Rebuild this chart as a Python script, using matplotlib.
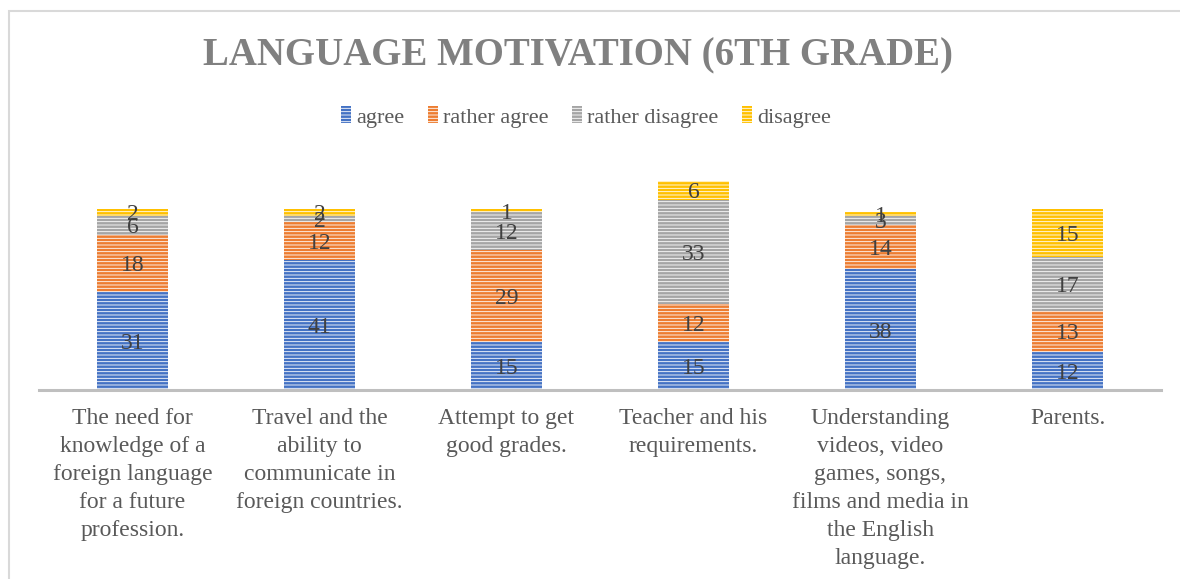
import numpy as np
import matplotlib.pyplot as plt
from matplotlib.patches import Rectangle

plt.rcParams['font.family'] = ['Liberation Serif', 'DejaVu Serif']
plt.rcParams['hatch.color'] = 'white'
plt.rcParams['hatch.linewidth'] = 0.6

categories = [
    "The need for\nknowledge of a\nforeign language\nfor a future\nprofession.",
    "Travel and the\nability to\ncommunicate in\nforeign countries.",
    "Attempt to get\ngood grades.",
    "Teacher and his\nrequirements.",
    "Understanding\nvideos, video\ngames, songs,\nfilms and media in\nthe English\nlanguage.",
    "Parents.",
]
series = ["agree", "rather agree", "rather disagree", "disagree"]
agree = [31, 41, 15, 15, 38, 12]
rather_agree = [18, 12, 29, 12, 14, 13]
rather_disagree = [6, 2, 12, 33, 3, 17]
disagree = [2, 2, 1, 6, 1, 15]
colors = ['#4472C4', '#ED7D31', '#A5A5A5', '#FFC000']

fig = plt.figure(figsize=(11.8, 5.79), dpi=100)
fig.patches.append(Rectangle((9 / 1180, -0.1), 1.2, 1 - 11 / 579 + 0.1,
                             transform=fig.transFigure, fill=False,
                             edgecolor='#D9D9D9', linewidth=1.5))
ax = fig.add_axes([39 / 1180, 189 / 579, 1122 / 1180, 222 / 579])

x = np.arange(len(categories))
bottom = np.zeros(len(categories))
for name, vals, col in zip(series, [agree, rather_agree, rather_disagree, disagree], colors):
    bars = ax.bar(x, vals, 0.38, bottom=bottom, color=col, edgecolor='white',
                  linewidth=0, hatch='-----', label=name)
    for b, v, bt in zip(bars, vals, bottom):
        ax.text(b.get_x() + b.get_width() / 2, bt + v / 2, str(v),
                ha='center', va='center_baseline', fontsize=17, color='#404040')
    bottom += np.array(vals)

ax.set_xlim(-0.5, len(categories) - 0.5)
ax.set_ylim(0, 70)
ax.set_yticks([])
ax.set_xticks(x)
ax.set_xticklabels(categories, fontsize=17, color='#595959', linespacing=1.44)
ax.tick_params(axis='x', length=0, pad=13)
for s in ['top', 'right', 'left']:
    ax.spines[s].set_visible(False)
ax.spines['bottom'].set_color('#BFBFBF')
ax.spines['bottom'].set_linewidth(2.2)

fig.text(0.49, 1 - 56 / 579, "LANGUAGE MOTIVATION (6TH GRADE)", ha='center', va='center',
         fontsize=28, fontweight='bold', color='#808080')

leg = fig.legend(loc='center', bbox_to_anchor=(0.4966, 1 - 117 / 579), ncol=4, frameon=False,
                 fontsize=16, handlelength=0.45, handleheight=0.8, handletextpad=0.25,
                 columnspacing=1.05)
for t in leg.get_texts():
    t.set_color('#595959')

fig.savefig('out.png', dpi=100)
